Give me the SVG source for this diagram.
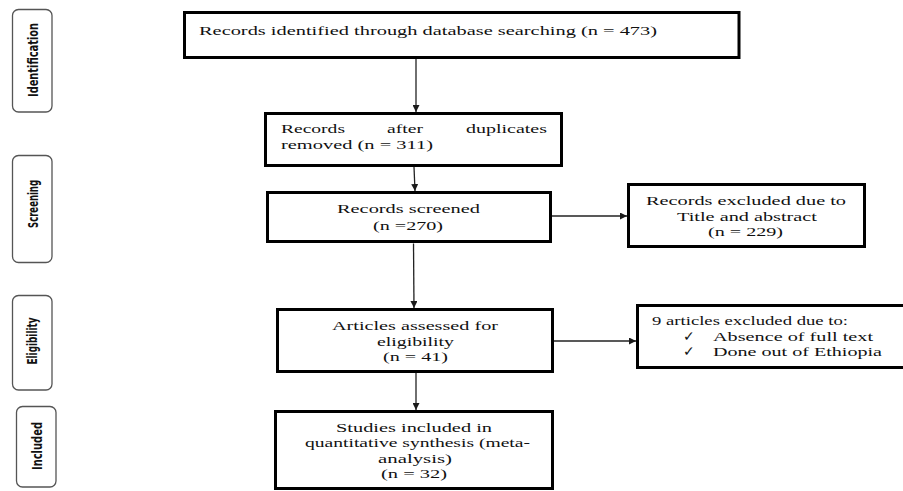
<svg xmlns="http://www.w3.org/2000/svg" width="903" height="491" viewBox="0 0 903 491">
<defs>
<marker id="ah" viewBox="0 0 10 10" refX="10" refY="5" markerWidth="7" markerHeight="7" markerUnits="userSpaceOnUse" orient="auto">
<path d="M0,0 L10,5 L0,10 z" fill="#1a1a1a"/>
</marker>
<style>
.box{fill:#fff;stroke:#000;stroke-width:3}
.stage{fill:#fff;stroke:#555;stroke-width:1.3}
.t{font-family:"Liberation Serif","Times New Roman",serif;font-size:13.5px;fill:#111}
.lab{font-family:"DejaVu Sans Condensed","DejaVu Sans",sans-serif;font-weight:bold;font-size:14px;fill:#111;text-anchor:middle}
.conn{stroke:#222;stroke-width:1.3;fill:none;marker-end:url(#ah)}
</style>
</defs>
<rect width="903" height="491" fill="#fff"/>

<g id="stage-identification">
<rect class="stage" x="12.5" y="9.5" width="39.5" height="102.5" rx="6"/>
<text class="lab" transform="translate(38,60) rotate(-90) scale(0.75,1)" textLength="98.7" lengthAdjust="spacingAndGlyphs">Identification</text>
</g>
<g id="stage-screening">
<rect class="stage" x="12.5" y="155.5" width="39.5" height="107" rx="6"/>
<text class="lab" transform="translate(38,204) rotate(-90) scale(0.75,1)" textLength="64" lengthAdjust="spacingAndGlyphs">Screening</text>
</g>
<g id="stage-eligibility">
<rect class="stage" x="12.5" y="295.5" width="39.5" height="94.5" rx="6"/>
<text class="lab" transform="translate(37,341) rotate(-90) scale(0.75,1)" textLength="62.7" lengthAdjust="spacingAndGlyphs">Eligibility</text>
</g>
<g id="stage-included">
<rect class="stage" x="16.5" y="406.5" width="39.5" height="80.5" rx="6"/>
<text class="lab" transform="translate(42,446) rotate(-90) scale(0.75,1)" textLength="64" lengthAdjust="spacingAndGlyphs">Included</text>
</g>

<g id="connectors">
<line class="conn" x1="416" y1="58.5" x2="416" y2="112"/>
<line class="conn" x1="414" y1="167" x2="415" y2="191"/>
<line class="conn" x1="413.5" y1="243.5" x2="414" y2="308"/>
<line class="conn" x1="552" y1="216" x2="627" y2="216"/>
<line class="conn" x1="416" y1="373" x2="416" y2="410"/>
<line class="conn" x1="554" y1="341" x2="636" y2="341"/>
</g>

<g id="node-identified">
<rect class="box" x="184.5" y="12.5" width="554.5" height="45"/>
<text class="t" x="199" y="35" textLength="458" lengthAdjust="spacingAndGlyphs">Records identified through database searching (n = 473)</text>
</g>
<g id="node-duplicates">
<rect class="box" x="265.5" y="113.5" width="296" height="52"/>
<text class="t" x="281" y="133" textLength="64" lengthAdjust="spacingAndGlyphs">Records</text>
<text class="t" x="387" y="133" textLength="36" lengthAdjust="spacingAndGlyphs">after</text>
<text class="t" x="466" y="133" textLength="81" lengthAdjust="spacingAndGlyphs">duplicates</text>
<text class="t" x="281" y="149" textLength="152" lengthAdjust="spacingAndGlyphs">removed (n = 311)</text>
</g>
<g id="node-screened">
<rect class="box" x="267.5" y="192.5" width="283" height="49"/>
<text class="t" x="337" y="213" textLength="143" lengthAdjust="spacingAndGlyphs">Records screened</text>
<text class="t" x="373" y="230" textLength="70" lengthAdjust="spacingAndGlyphs">(n =270)</text>
</g>
<g id="node-excluded">
<rect class="box" x="628.5" y="184.5" width="236" height="62"/>
<text class="t" x="646" y="205" textLength="200" lengthAdjust="spacingAndGlyphs">Records excluded due to</text>
<text class="t" x="677" y="221" textLength="140" lengthAdjust="spacingAndGlyphs">Title and abstract</text>
<text class="t" x="708" y="236" textLength="75" lengthAdjust="spacingAndGlyphs">(n = 229)</text>
</g>
<g id="node-eligibility">
<rect class="box" x="277.5" y="309.5" width="275" height="62"/>
<text class="t" x="332" y="330" textLength="166" lengthAdjust="spacingAndGlyphs">Articles assessed for</text>
<text class="t" x="377" y="345.5" textLength="77" lengthAdjust="spacingAndGlyphs">eligibility</text>
<text class="t" x="383" y="361" textLength="65" lengthAdjust="spacingAndGlyphs">(n = 41)</text>
</g>
<g id="node-excluded-full">
<rect class="box" x="637.5" y="305.5" width="270" height="62"/>
<text class="t" x="652" y="325" textLength="196" lengthAdjust="spacingAndGlyphs">9 articles excluded due to:</text>
<text class="t" x="683" y="340.5">✓</text>
<text class="t" x="713" y="340.5" textLength="160" lengthAdjust="spacingAndGlyphs">Absence of full text</text>
<text class="t" x="683" y="356">✓</text>
<text class="t" x="713" y="356" textLength="169" lengthAdjust="spacingAndGlyphs">Done out of Ethiopia</text>
</g>
<g id="node-included">
<rect class="box" x="275.5" y="411.5" width="277" height="77"/>
<text class="t" x="336" y="431.5" textLength="156" lengthAdjust="spacingAndGlyphs">Studies included in</text>
<text class="t" x="305" y="447" textLength="225" lengthAdjust="spacingAndGlyphs">quantitative synthesis (meta-</text>
<text class="t" x="378" y="462.5" textLength="74" lengthAdjust="spacingAndGlyphs">analysis)</text>
<text class="t" x="381" y="478" textLength="66" lengthAdjust="spacingAndGlyphs">(n = 32)</text>
</g>
</svg>
